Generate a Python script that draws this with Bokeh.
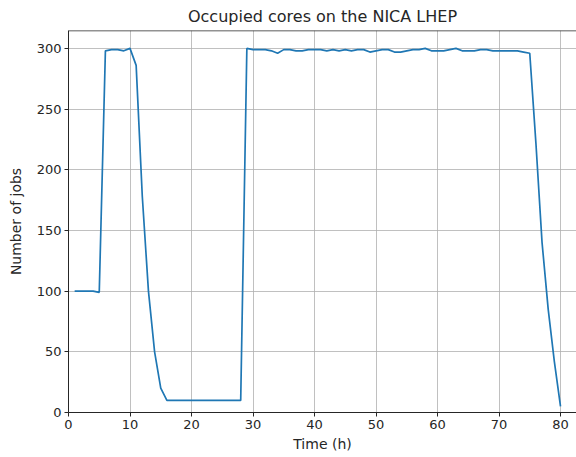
from bokeh.plotting import figure
from bokeh.models import Range1d, SingleIntervalTicker, Span
from bokeh.embed import file_html
from bokeh.resources import INLINE

hours = list(range(1, 81))
jobs = [
    100, 100, 100, 100, 99, 298, 299, 299, 298, 300,   # 1-10
    286, 178, 100, 50, 20, 10, 10, 10, 10, 10,          # 11-20
    10, 10, 10, 10, 10, 10, 10, 10, 300, 299,           # 21-30
    299, 299, 298, 296, 299, 299, 298, 298, 299, 299,   # 31-40
    299, 298, 299, 298, 299, 298, 299, 299, 297, 298,   # 41-50
    299, 299, 297, 297, 298, 299, 299, 300, 298, 298,   # 51-60
    298, 299, 300, 298, 298, 298, 299, 299, 298, 298,   # 61-70
    298, 298, 298, 297, 296, 222, 140, 85, 42, 5,       # 71-80
]

FONT = "DejaVu Sans"
TXT = "#262626"
Y_MAX = 314.75

p = figure(width=576, height=457, output_backend="svg", toolbar_location=None,
           x_range=Range1d(0, 82.6), y_range=Range1d(0, Y_MAX),
           min_border_left=68, min_border_right=0, min_border_top=30, min_border_bottom=45,
           title="Occupied cores on the NICA LHEP")

xa = p.xaxis[0]
ya = p.yaxis[0]

p.line(hours, jobs, line_color="#1f77b4", line_width=1.7)

p.add_layout(Span(location=Y_MAX, dimension="width", line_color="#262626", line_width=1.5))

p.title.align = "center"
p.title.text_font = FONT
p.title.text_font_size = "16px"
p.title.text_font_style = "normal"
p.title.text_color = TXT
p.title.standoff = 9

p.outline_line_color = None

for ax in (xa, ya):
    ax.major_label_text_font = FONT
    ax.major_label_text_font_size = "13px"
    ax.major_label_text_color = TXT
    ax.axis_label_text_font = FONT
    ax.axis_label_text_font_size = "14px"
    ax.axis_label_text_font_style = "normal"
    ax.axis_label_text_color = TXT
    ax.axis_line_color = "#262626"
    ax.major_tick_line_color = "#262626"
    ax.major_tick_in = 0
    ax.major_tick_out = 4
    ax.minor_tick_line_color = None
    ax.major_label_standoff = 3

xa.axis_label = "Time (h)"
ya.axis_label = "Number of jobs"
xa.ticker = SingleIntervalTicker(interval=10)
ya.ticker = SingleIntervalTicker(interval=50)
xa.axis_label_standoff = 4
ya.axis_label_standoff = 10

p.xgrid.grid_line_color = "#b0b0b0"
p.ygrid.grid_line_color = "#b0b0b0"
p.xgrid.grid_line_width = 0.8
p.ygrid.grid_line_width = 0.8
p.xgrid.ticker = SingleIntervalTicker(interval=10)
p.ygrid.ticker = SingleIntervalTicker(interval=50)

open("out.html", "w").write(file_html(p, INLINE))
